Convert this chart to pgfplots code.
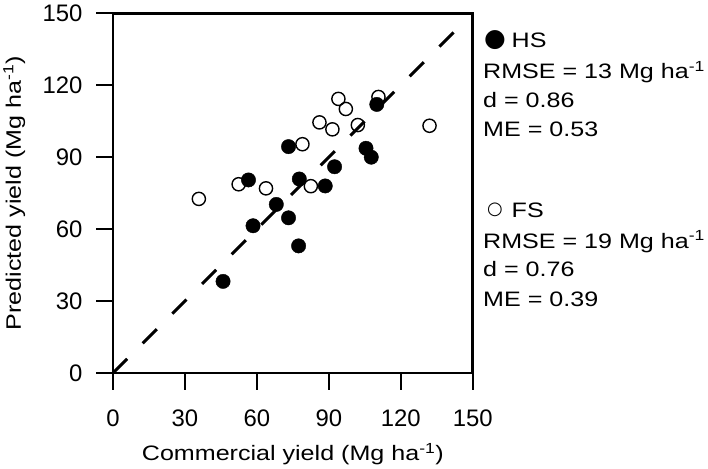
\documentclass[border=0pt]{standalone}
\usepackage{pgfplots}
\pgfplotsset{compat=1.18}
\usepackage{pgfplotstable}
\usepackage{fontspec}
\setmainfont{Liberation Sans}
\newfontfamily\labfont[FakeStretch=1.2]{Liberation Sans}
\newfontfamily\rfont[FakeStretch=1.2]{Liberation Sans}
\newfontfamily\symfont{DejaVu Sans}

\pgfplotstableread{
x y
73.2 94.4
56.5 80.5
77.7 80.9
88.5 78.0
92.4 86.0
105.5 93.7
107.7 90.0
110.0 112.0
68.1 70.3
58.4 61.4
73.2 64.7
77.4 53.0
45.9 38.2
}\hsdata

\pgfplotstableread{
x y
94.0 114.3
97.1 110.1
110.7 115.1
86.1 104.5
91.5 101.6
102.1 103.4
132.0 103.1
79.0 95.4
52.4 78.7
63.8 77.0
82.5 77.9
35.8 72.6
}\fsdata

\begin{document}
\begin{tikzpicture}
\begin{axis}[
  scale only axis, width=360bp, height=360bp,
  xmin=0, xmax=150, ymin=0, ymax=150,
  xtick={0,30,60,90,120,150}, ytick={0,30,60,90,120,150},
  tick align=outside, major tick length=17bp,
  xtick pos=bottom, ytick pos=left,
  axis line style={line width=2.6bp},
  every tick/.style={black, line width=2.4bp},
  /pgf/number format/assume math mode=true,
  tick label style={font=\fontsize{24}{28}\selectfont},
  xticklabel style={yshift=-16bp},
  yticklabel style={xshift=-10bp},
  xlabel={Commercial yield (Mg ha\textsuperscript{-1})},
  ylabel={Predicted yield (Mg ha\textsuperscript{-1})},
  label style={font=\labfont\fontsize{21}{25}\selectfont},
  xlabel style={at={(axis description cs:0.5,-0.2444)}, anchor=base},
  ylabel style={at={(axis description cs:-0.2561,0.5)}, anchor=base, rotate=0},
  clip=false,
]
\addplot[only marks, mark=o, mark size=6.6bp, mark options={line width=1.4bp, fill=white, draw=black}] table[x=x,y=y] {\fsdata};
\addplot[only marks, mark=*, mark size=7.2bp, mark options={fill=black, draw=black}] table[x=x,y=y] {\hsdata};
\addplot[black, line width=3bp, dash pattern=on 20bp off 22bp] coordinates {(0,0) (142,142)};

\node[anchor=center, inner sep=0pt, font=\symfont\fontsize{25}{27}\selectfont] at (rel axis cs:1.0619,0.925) {●};
\node[anchor=base west, inner sep=0pt, font=\rfont\fontsize{21}{25}\selectfont] at (rel axis cs:1.108,0.904) {HS};
\node[anchor=base west, inner sep=0pt, font=\rfont\fontsize{21}{25}\selectfont] at (rel axis cs:1.0286,0.818) {RMSE = 13 Mg ha\textsuperscript{-1}};
\node[anchor=base west, inner sep=0pt, font=\rfont\fontsize{21}{25}\selectfont] at (rel axis cs:1.0286,0.738) {d = 0.86};
\node[anchor=base west, inner sep=0pt, font=\rfont\fontsize{21}{25}\selectfont] at (rel axis cs:1.0286,0.657) {ME = 0.53};

\node[anchor=center, inner sep=0pt, font=\symfont\fontsize{18}{20}\selectfont] at (rel axis cs:1.0619,0.453) {○};
\node[anchor=base west, inner sep=0pt, font=\rfont\fontsize{21}{25}\selectfont] at (rel axis cs:1.108,0.433) {FS};
\node[anchor=base west, inner sep=0pt, font=\rfont\fontsize{21}{25}\selectfont] at (rel axis cs:1.0286,0.347) {RMSE = 19 Mg ha\textsuperscript{-1}};
\node[anchor=base west, inner sep=0pt, font=\rfont\fontsize{21}{25}\selectfont] at (rel axis cs:1.0286,0.267) {d = 0.76};
\node[anchor=base west, inner sep=0pt, font=\rfont\fontsize{21}{25}\selectfont] at (rel axis cs:1.0286,0.186) {ME = 0.39};
\end{axis}
\path ([shift={(-112.7bp,-96bp)}]current axis.south west) rectangle ([shift={(235.5bp,13.3bp)}]current axis.north east);
\end{tikzpicture}
\end{document}
